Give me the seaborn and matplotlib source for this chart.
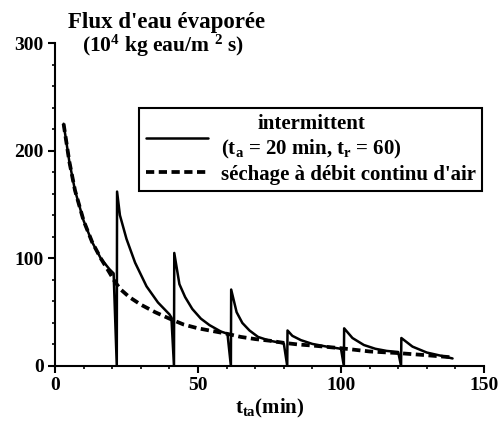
import matplotlib
matplotlib.use("Agg")
import matplotlib.pyplot as plt
import seaborn as sns
from matplotlib.ticker import MultipleLocator, FixedLocator

# ---- data ----
t_intermittent = [3, 5, 7, 10, 13, 16, 19, 20.5,
                  21.6, 21.7, 22.7, 25, 28, 32, 36, 40, 40.7,
                  41.6, 41.7, 43.5, 45.5, 48, 51, 54, 58, 60.3,
                  61.5, 61.6, 63.5, 65.5, 68, 71, 75, 80,
                  81.2, 81.3, 83, 86, 90, 95, 100,
                  101, 101.1, 104, 108, 112, 116, 120,
                  121, 121.1, 125, 130, 135, 139]
flux_intermittent = [225, 190, 163, 135, 115, 100, 90, 86,
                     0, 162, 140, 118, 96, 74, 59, 48, 45,
                     0, 105, 76, 64, 53, 44, 38, 32, 30,
                     0, 71, 50, 40, 33, 27, 23.5, 21,
                     0, 33, 28, 24, 20.5, 18, 16,
                     0, 35, 26, 19.5, 16, 14, 13,
                     0, 26, 18, 12.5, 9.5, 7]

t_continu = [3, 5, 7, 10, 13, 16, 19, 21, 23, 26,
             30, 35, 40, 45, 50, 55, 60, 65, 70, 75,
             80, 85, 90, 100, 110, 120, 130, 139]
flux_continu = [225, 190, 163, 135, 115, 100, 87, 78, 71, 64,
                57, 50, 44, 38.5, 35, 32.5, 30, 27, 25, 23.5,
                21.5, 20, 19, 16.5, 13.5, 12, 10, 8]

x_ticks = [0, 50, 100, 150]
y_ticks = [0, 100, 200, 300]
label_intermittent = "intermittent\n(t$_\\mathrm{a}$ = 20 min, t$_\\mathrm{r}$ = 60)"
label_continu = "séchage à débit continu d'air"
title_lines = ["Flux d'eau évaporée", "(10$^{4}$ kg eau/m $^{2}$ s)"]
xlabel = "t$_{\\mathrm{ta}}$(min)"

# ---- style ----
sns.set_theme(style="ticks")
plt.rcParams["font.family"] = ["Liberation Serif", "DejaVu Serif"]
plt.rcParams["font.weight"] = "bold"
plt.rcParams["mathtext.fontset"] = "custom"
plt.rcParams["mathtext.rm"] = "Liberation Serif:bold"
plt.rcParams["mathtext.it"] = "Liberation Serif:italic:bold"
plt.rcParams["mathtext.bf"] = "Liberation Serif:bold"
plt.rcParams["mathtext.default"] = "rm"
plt.rcParams["text.color"] = "black"
plt.rcParams["axes.labelcolor"] = "black"
plt.rcParams["xtick.color"] = "black"
plt.rcParams["ytick.color"] = "black"

fig = plt.figure(figsize=(5.03, 4.22), dpi=100)
ax = fig.add_axes([55 / 503, 56 / 422, 429 / 503, 323 / 422])
ax.set_facecolor("white")

sns.lineplot(x=t_intermittent, y=flux_intermittent, ax=ax, color="black",
             lw=1.8, estimator=None, sort=False, label=label_intermittent)
sns.lineplot(x=t_continu, y=flux_continu, ax=ax, color="black",
             lw=2.7, linestyle=(0, (2.2, 1.2)), estimator=None, sort=False,
             label=label_continu)

ax.set_xlim(0, 150)
ax.set_ylim(0, 300)
ax.xaxis.set_major_locator(FixedLocator(x_ticks))
ax.yaxis.set_major_locator(FixedLocator(y_ticks))
ax.xaxis.set_minor_locator(MultipleLocator(10))
ax.yaxis.set_minor_locator(MultipleLocator(20))
ax.tick_params(which="major", length=5, width=1.5, direction="out",
               labelsize=14, pad=3)
ax.tick_params(which="minor", length=2.5, width=1.2, direction="out")
for lab in ax.get_xticklabels() + ax.get_yticklabels():
    lab.set_fontweight("bold")

sns.despine(ax=ax)
for s in ("left", "bottom"):
    ax.spines[s].set_linewidth(1.5)
    ax.spines[s].set_color("black")

ax.set_xlabel(xlabel, fontsize=15, fontweight="bold", labelpad=2)
ax.set_ylabel("")

fig.text(0.332, 1 - 28 / 422, title_lines[0], ha="center", va="baseline",
         fontsize=16.5, fontweight="bold")
fig.text(0.325, 1 - 52 / 422, title_lines[1], ha="center", va="baseline",
         fontsize=15.5, fontweight="bold")

leg = ax.legend(loc="upper right", bbox_to_anchor=(0.995, 0.799),
                frameon=True, fancybox=False, framealpha=1,
                edgecolor="black", fontsize=15, handlelength=3.0,
                handletextpad=0.6, borderpad=0.3, labelspacing=0.2,
                borderaxespad=0)
leg.get_frame().set_linewidth(1.5)
leg.get_texts()[0].set_multialignment("center")
for txt in leg.get_texts():
    txt.set_fontweight("bold")

fig.savefig("out.png", dpi=100, facecolor="white")
